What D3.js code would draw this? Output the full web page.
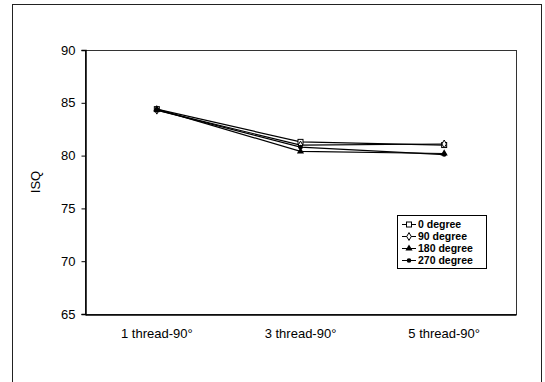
<!DOCTYPE html>
<head>
  <meta charset="utf-8">
  <script src="https://d3js.org/d3.v7.min.js"></script>
  <style>
  body { margin: 0; background: white; }
  #chart text { font-family: "Liberation Sans", Arial, sans-serif; fill: black; }
  </style>
</head>
<body>
  <svg id="chart"></svg>
  <script>
    var categories = ["1 thread-90°", "3 thread-90°", "5 thread-90°"];
    var seriesNames = ["0 degree", "90 degree", "180 degree", "270 degree"];
    var deg0 = [84.4, 81.3, 81.0];
    var deg90 = [84.3, 81.0, 81.1];
    var deg180 = [84.4, 80.4, 80.2];
    var deg270 = [84.3, 80.8, 80.1];
    var yTicks = [65, 70, 75, 80, 85, 90];

    var seriesValues = [deg0, deg90, deg180, deg270];
    var markers = ["square", "diamond", "triangle", "circle"];

    var width = 545, height = 382;
    var plot = { left: 85, right: 516, top: 50, bottom: 314 };

    var svg = d3.select('#chart')
        .attr('width', width)
        .attr('height', height);

    // outer chart frame (runs past the bottom edge)
    svg.append('rect')
        .attr('x', 12.5).attr('y', 4.5)
        .attr('width', 529).attr('height', 400)
        .attr('fill', 'none').attr('stroke', '#222').attr('stroke-width', 1);

    var x = d3.scaleBand()
        .domain(categories)
        .range([plot.left, plot.right]);

    var y = d3.scaleLinear()
        .domain([65, 90])
        .range([plot.bottom, plot.top]);

    // plot frame
    svg.append('rect')
        .attr('x', plot.left + 0.5).attr('y', plot.top + 0.5)
        .attr('width', plot.right - plot.left).attr('height', plot.bottom - plot.top)
        .attr('fill', 'none').attr('stroke', '#333').attr('stroke-width', 1);

    var yAxis = svg.append('g')
        .attr('transform', 'translate(' + (plot.left + 0.5) + ',0)')
        .call(d3.axisLeft(y).tickValues(yTicks).tickSize(4).tickPadding(6));
    yAxis.select('.domain').attr('stroke', 'black').attr('stroke-width', 1.5);
    yAxis.selectAll('.tick line').attr('stroke', 'black');
    yAxis.selectAll('text').style('font-size', '13px');

    var xAxis = svg.append('g')
        .attr('transform', 'translate(0,' + (plot.bottom + 0.5) + ')')
        .call(d3.axisBottom(x).tickSize(0).tickPadding(14));
    xAxis.select('.domain').attr('stroke', 'black').attr('stroke-width', 1.5);
    xAxis.selectAll('text').style('font-size', '13px');

    svg.append('text')
        .attr('transform', 'translate(40,' + ((plot.top + plot.bottom) / 2) + ') rotate(-90)')
        .attr('text-anchor', 'middle')
        .style('font-size', '13px')
        .text('ISQ');

    var cx = function(i) { return x(categories[i]) + x.bandwidth() / 2; };

    var line = d3.line()
        .x(function(d, i) { return cx(i); })
        .y(function(d) { return y(d); });

    function drawMarker(g, type, px, py) {
      if (type === 'square') {
        g.append('rect').attr('x', px - 2.5).attr('y', py - 2.5).attr('width', 5).attr('height', 5)
          .attr('fill', 'white').attr('stroke', 'black').attr('stroke-width', 1);
      } else if (type === 'diamond') {
        g.append('path').attr('d', d3.symbol().type(d3.symbolDiamond).size(18)())
          .attr('transform', 'translate(' + px + ',' + py + ')')
          .attr('fill', 'white').attr('stroke', 'black').attr('stroke-width', 1);
      } else if (type === 'triangle') {
        g.append('path').attr('d', d3.symbol().type(d3.symbolTriangle).size(22)())
          .attr('transform', 'translate(' + px + ',' + py + ')')
          .attr('fill', 'black');
      } else {
        g.append('circle').attr('cx', px).attr('cy', py).attr('r', 2.3).attr('fill', 'black');
      }
    }

    seriesValues.forEach(function(vals, s) {
      var g = svg.append('g');
      g.append('path')
          .datum(vals)
          .attr('d', line)
          .attr('fill', 'none')
          .attr('stroke', 'black')
          .attr('stroke-width', 1.2);
      vals.forEach(function(v, i) { drawMarker(g, markers[s], cx(i), y(v)); });
    });

    // legend
    var legend = svg.append('g').attr('transform', 'translate(397,215)');
    legend.append('rect')
        .attr('x', 0.5).attr('y', 0.5).attr('width', 89).attr('height', 53)
        .attr('fill', 'white').attr('stroke', 'black').attr('stroke-width', 1);
    seriesNames.forEach(function(name, i) {
      var ly = 9.5 + i * 12;
      legend.append('line')
          .attr('x1', 5).attr('x2', 19).attr('y1', ly).attr('y2', ly)
          .attr('stroke', 'black').attr('stroke-width', 1);
      drawMarker(legend, markers[i], 12, ly);
      legend.append('text')
          .attr('x', 21).attr('y', ly + 3.5)
          .style('font-size', '10.5px').style('font-weight', 'bold')
          .text(name);
    });
  </script>
</body>
